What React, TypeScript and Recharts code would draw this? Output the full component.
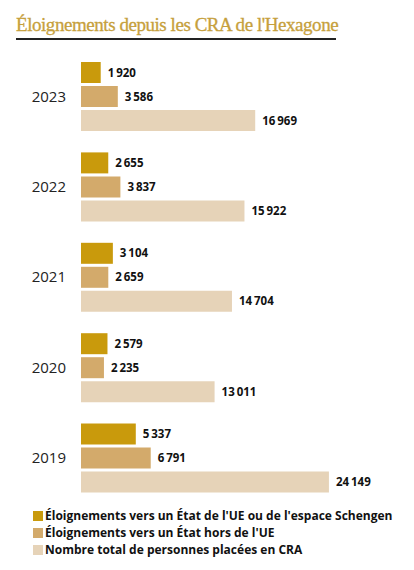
import React from "react";
import { BarChart, Bar, XAxis, YAxis, LabelList } from "recharts";

const YEARS = ["2023", "2022", "2021", "2020", "2019"];
const EU_SCHENGEN = [1920, 2655, 3104, 2579, 5337];
const NON_EU = [3586, 3837, 2659, 2235, 6791];
const TOTAL_CRA = [16969, 15922, 14704, 13011, 24149];

const SERIES = [
  { key: "eu", label: "Éloignements vers un État de l'UE ou de l'espace Schengen", color: "#c99a0c" },
  { key: "nonEu", label: "Éloignements vers un État hors de l'UE", color: "#d3aa6b" },
  { key: "total", label: "Nombre total de personnes placées en CRA", color: "#e6d3b8" },
];

const data = YEARS.map((year, i) => ({
  year,
  eu: EU_SCHENGEN[i],
  nonEu: NON_EU[i],
  total: TOTAL_CRA[i],
}));

const fmt = (v: any) => Number(v).toLocaleString("fr-FR").replace(/\s/g, "\u2009");

export default function App() {
  return (
    <div
      style={{
        position: "absolute",
        left: 0,
        top: 0,
        width: 414,
        height: 570,
        background: "#fff",
        fontFamily: "'Open Sans', sans-serif",
      }}
    >
      <div
        style={{
          position: "absolute",
          left: 16,
          top: 13,
          width: 320,
          fontFamily: "'Liberation Serif', serif",
          fontSize: 19,
          letterSpacing: -0.45,
          color: "#c6a03c",
          whiteSpace: "nowrap",
          borderBottom: "2px solid #222",
          paddingBottom: 2,
          lineHeight: "23px",
          WebkitTextStroke: "0.3px #c6a03c",
        }}
      >
        Éloignements depuis les CRA de l'Hexagone
      </div>

      <div style={{ position: "absolute", left: 0, top: 0 }}>
        <BarChart
          width={414}
          height={510}
          data={data}
          layout="vertical"
          margin={{ top: 51, right: 25, bottom: 7, left: 0 }}
          barSize={21}
          barGap={3}
        >
          <XAxis type="number" domain={[0, 30000]} hide />
          <YAxis
            type="category"
            dataKey="year"
            width={81}
            axisLine={false}
            tickLine={false}
            tickSize={0}
            tickMargin={15}
            tick={{ fill: "#222", fontSize: 15, fontFamily: "'Open Sans', sans-serif" }}
          />
          {SERIES.map((s) => (
            <Bar key={s.key} dataKey={s.key} fill={s.color} isAnimationActive={false}>
              <LabelList
                dataKey={s.key}
                position="right"
                offset={7}
                formatter={fmt}
                style={{ fill: "#111", fontSize: 11.5, fontWeight: 700, fontFamily: "'Open Sans', sans-serif" }}
              />
            </Bar>
          ))}
        </BarChart>
      </div>

      <div style={{ position: "absolute", left: 33, top: 507 }}>
        {SERIES.map((s) => (
          <div
            key={s.key}
            style={{ display: "flex", alignItems: "center", height: 17, fontSize: 12, fontWeight: 700, color: "#111", whiteSpace: "nowrap" }}
          >
            <span style={{ display: "inline-block", width: 10, height: 10, background: s.color, marginRight: 2 }} />
            {s.label}
          </div>
        ))}
      </div>
    </div>
  );
}
